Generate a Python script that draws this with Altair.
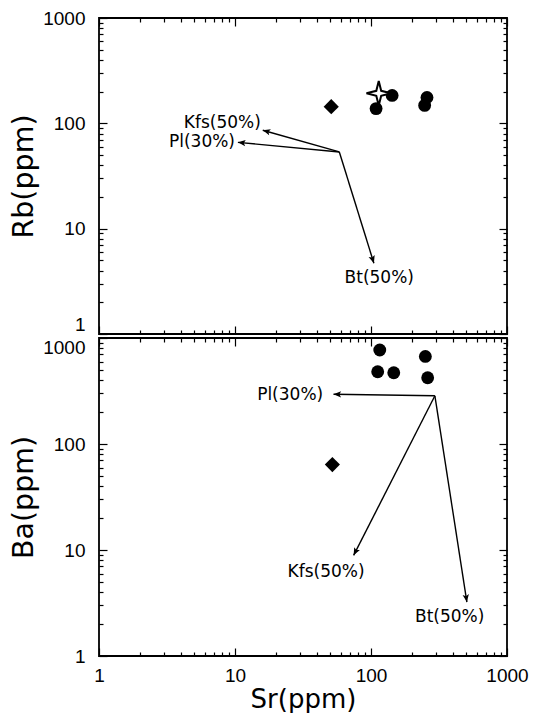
import math
import altair as alt
import pandas as pd

# ---------------- data ----------------
# upper panel: Rb vs Sr
top_circle_sr = [109, 143, 248, 258]
top_circle_rb = [138, 184, 148, 176]
top_diamond_sr = [51]
top_diamond_rb = [144]
top_star_sr = [114]
top_star_rb = [193]

# lower panel: Ba vs Sr
bot_circle_sr = [116, 112, 147, 251, 261]
bot_circle_ba = [770, 480, 470, 670, 422]
bot_diamond_sr = [52]
bot_diamond_ba = [64]

# fractionation vectors: origin and tips
top_origin = (58.5, 53.5)
top_vec_names = ["Kfs(50%)", "Pl(30%)", "Bt(50%)"]
top_vec_tip_sr = [16.0, 10.5, 105]
top_vec_tip_rb = [86.0, 66.0, 4.7]
top_lab_sr = [15.5, 10.0, 115]
top_lab_rb = [100, 65.9, 3.4]
top_lab_align = ["right", "right", "center"]

bot_origin = (295, 285)
bot_vec_names = ["Pl(30%)", "Kfs(50%)", "Bt(50%)"]
bot_vec_tip_sr = [53, 74.5, 507]
bot_vec_tip_ba = [295, 8.9, 3.23]
bot_lab_sr = [44.5, 46.7, 379]
bot_lab_ba = [287, 6.2, 2.35]
bot_lab_align = ["right", "center", "center"]

decades = [1, 10, 100, 1000]
all_ticks = sorted(set(decades + [m * d for d in [1, 10, 100] for m in range(2, 10)]))

W = 408
H_TOP = 316
H_BOT = 318

STAR = "M0,-1 L0.2,-0.2 L1,0 L0.2,0.2 L0,1 L-0.2,0.2 L-1,0 L-0.2,-0.2 Z"
HEAD = "M0,0 L0.42,1 L0,0.78 L-0.42,1 Z"

LABEL_FONT = "Liberation Sans"
TITLE_FONT = "DejaVu Sans"

tick_size = {"condition": {"test": "indexof([1,10,100,1000], datum.value) >= 0", "value": 8}, "value": 4}


def head_angles(origin, tips_x, tips_y, h):
    out = []
    for tx, ty in zip(tips_x, tips_y):
        dx = (math.log10(tx) - math.log10(origin[0])) * W / 3
        dy = -(math.log10(ty) - math.log10(origin[1])) * h / 3
        out.append(math.degrees(math.atan2(dx, -dy)) % 360)
    return out


def inward(orient, offset):
    return alt.Axis(orient=orient, offset=offset, values=all_ticks, tickSize=tick_size,
                    tickColor="black", tickWidth=1.2, labels=False, domain=False,
                    grid=False, title=None)


def panel(csr, cy, dsr, dy, ssr, sy, origin, names, tsr, ty, lsr, ly, lalign,
          h, ytitle, show_x, label_baseline):
    xs = alt.Scale(type="log", domain=[1, 1000], nice=False)
    ys = alt.Scale(type="log", domain=[1, 1000], nice=False)

    circles = pd.DataFrame({"x": csr, "y": cy})
    diamonds = pd.DataFrame({"x": dsr, "y": dy})
    stars = pd.DataFrame({"x": ssr, "y": sy})
    rows = []
    for n, a, b in zip(names, tsr, ty):
        rows.append({"id": n, "o": 0, "x": origin[0], "y": origin[1]})
        rows.append({"id": n, "o": 1, "x": a, "y": b})
    lines = pd.DataFrame(rows)
    heads = pd.DataFrame({"x": tsr, "y": ty, "ang": head_angles(origin, tsr, ty, h)})
    labs = pd.DataFrame({"x": lsr, "y": ly, "t": names, "al": lalign})

    if show_x:
        x_main = alt.Axis(orient="bottom", values=decades, tickSize=0, domain=False, grid=False,
                          labelExpr="'' + datum.value", labelFont=LABEL_FONT, labelFontSize=19,
                          labelColor="black", labelPadding=10, labelFlush=False,
                          title="Sr(ppm)", titleFont=TITLE_FONT, titleFontSize=26,
                          titleFontWeight="normal", titleColor="black", titlePadding=1)
    else:
        x_main = None
    y_main = alt.Axis(orient="left", values=decades, tickSize=0, domain=False, grid=False,
                      labelExpr="'' + datum.value", labelFont=LABEL_FONT, labelFontSize=19,
                      labelColor="black", labelPadding=14,
                      labelBaseline=label_baseline,
                      title=ytitle, titleFont=TITLE_FONT, titleFontSize=28.5,
                      titleFontWeight="normal", titleColor="black", titlePadding=4)

    l_circles = alt.Chart(circles).mark_point(shape="circle", filled=True, size=165,
                                              color="black", opacity=1).encode(
        x=alt.X("x:Q", scale=xs, axis=x_main),
        y=alt.Y("y:Q", scale=ys, axis=y_main))
    l_diam = alt.Chart(diamonds).mark_point(shape="diamond", filled=True, size=230,
                                            color="black", opacity=1).encode(
        x=alt.X("x:Q", scale=xs, axis=None), y=alt.Y("y:Q", scale=ys, axis=None))
    l_lines = alt.Chart(lines).mark_line(color="black", strokeWidth=1.4).encode(
        x=alt.X("x:Q", scale=xs, axis=inward("top", -h)),
        y=alt.Y("y:Q", scale=ys, axis=inward("right", -W)),
        detail="id:N", order="o:Q")
    l_heads = alt.Chart(heads).mark_point(shape=HEAD, filled=True, size=230,
                                          color="black", opacity=1).encode(
        x=alt.X("x:Q", scale=xs, axis=inward("bottom", -h)),
        y=alt.Y("y:Q", scale=ys, axis=inward("left", -W)),
        angle=alt.Angle("ang:Q", scale=None))
    text_layers = []
    for al in ["right", "center"]:
        text_layers.append(
            alt.Chart(labs).transform_filter(alt.datum.al == al).mark_text(
                align=al, baseline="middle", font=TITLE_FONT, fontSize=17,
                color="black").encode(
                x=alt.X("x:Q", scale=xs, axis=None), y=alt.Y("y:Q", scale=ys, axis=None),
                text="t:N"))
    layers = [l_circles, l_diam]
    if len(stars):
        l_star = alt.Chart(stars).mark_point(shape=STAR, filled=True, size=600, fill="white",
                                             stroke="black", strokeWidth=2, opacity=1).encode(
            x=alt.X("x:Q", scale=xs, axis=None), y=alt.Y("y:Q", scale=ys, axis=None))
        layers.append(l_star)
    layers += [l_lines, l_heads] + text_layers
    return alt.layer(*layers).resolve_axis(x="independent", y="independent").properties(
        width=W, height=h)


top = panel(top_circle_sr, top_circle_rb, top_diamond_sr, top_diamond_rb, top_star_sr,
            top_star_rb, top_origin, top_vec_names, top_vec_tip_sr, top_vec_tip_rb,
            top_lab_sr, top_lab_rb, top_lab_align, H_TOP, "Rb(ppm)", False,
            {"condition": {"test": "datum.value == 1", "value": "bottom"}, "value": "middle"})
bot = panel(bot_circle_sr, bot_circle_ba, bot_diamond_sr, bot_diamond_ba, [], [],
            bot_origin, bot_vec_names, bot_vec_tip_sr, bot_vec_tip_ba,
            bot_lab_sr, bot_lab_ba, bot_lab_align, H_BOT, "Ba(ppm)", True,
            {"condition": {"test": "datum.value == 1000", "value": "top"}, "value": "middle"})

chart = alt.vconcat(top, bot, spacing=0).properties(
    padding={"left": 0, "top": 0, "right": 5, "bottom": 0},
    background="white",
).configure_view(stroke="black", strokeWidth=1.8).configure_axis(grid=False)

chart.save("out.html", embed_options={"renderer": "svg", "actions": False})
